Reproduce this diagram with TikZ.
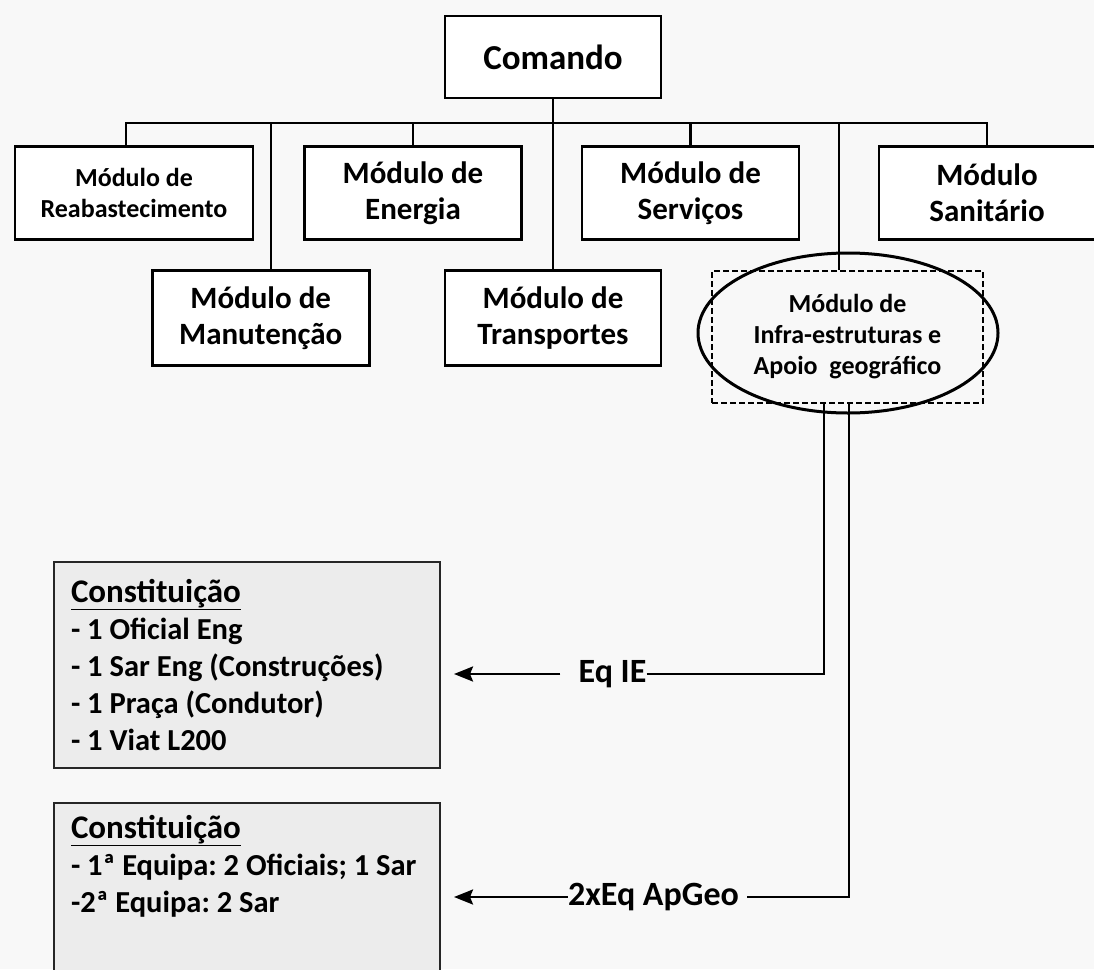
\documentclass[tikz,border=0pt]{standalone}
\usepackage{fontspec}
\setmainfont{Carlito}
\usetikzlibrary{positioning}
\usetikzlibrary{arrows.meta}

\definecolor{fundo}{HTML}{F8F8F8}
\definecolor{cinza}{HTML}{ECECEC}

\tikzset{
	modulo/.style={draw, line width=2.8pt, fill=white, inner sep=0pt, align=center,
		minimum width=217pt, minimum height=93pt, font=\bfseries\fontsize{31}{36}\selectfont},
	modpeq/.style={font=\bfseries\fontsize{26}{31}\selectfont},
	caixa/.style={draw=black!85, line width=2pt, fill=cinza, text width=352pt, inner xsep=17pt,
		inner ysep=0pt, align=flush left, font=\bfseries\frenchspacing\fontsize{30.5}{37}\selectfont},
	rotulo/.style={inner sep=0pt, font=\bfseries\fontsize{34}{40}\selectfont},
	linha/.style={line width=2.5pt}
}
\newcommand{\titcons}{{\fontsize{33}{40}\selectfont\underline{Constituição}}}

\begin{document}
\begin{tikzpicture}[x=1pt,y=-1pt,>={Stealth[length=19pt,width=15pt,inset=3pt]}]
	\useasboundingbox (0,0) rectangle (1094,969);
	\clip (0,0) rectangle (1094,969);
	\fill[fundo] (0,0) rectangle (1094,969);
	% comando e modulos
	\node[modulo, minimum width=216pt, minimum height=82pt, font=\bfseries\fontsize{35}{40}\selectfont] (Cmd) at (553,57) {Comando};
	\node[modulo, modpeq, minimum width=238pt] (Reab) at (134,193) {Módulo de\\Reabastecimento};
	\node[modulo] (Ener) at (413,193) {Módulo de\\Energia};
	\node[modulo] (Serv) at (690.5,193) {Módulo de\\Serviços};
	\node[modulo, minimum width=216pt] (Sani) at (987,193) {Módulo\\Sanitário};
	\node[modulo, minimum width=216pt, minimum height=95pt, below=170pt of Cmd] (Trans) {Módulo de\\Transportes};
	\node[modulo, minimum height=95pt, left=73pt of Trans] (Manu) {Módulo de\\Manutenção};
	\node[modulo, modpeq, fill=none, line width=1.6pt, dash pattern=on 6pt off 3pt, minimum width=271pt, minimum height=132pt] (Infra) at (847.5,337) {Módulo de\\Infra-estruturas e\\Apoio~ geográfico};
	\draw[line width=3pt] (848,333) ellipse [x radius=150pt, y radius=80pt];
	\coordinate (barra) at (553,123);
	\draw[linha] (Cmd) -- (Trans);
	\draw[linha] ([xshift=-8pt]Reab.north) |- (Sani.north |- barra) -- (Sani.north);
	\draw[linha] (Ener.north) -- (Ener.north |- barra);
	\draw[linha] (Serv.north) -- (Serv.north |- barra);
	\draw[linha] ([xshift=10.5pt]Manu.north) -- ([xshift=10.5pt]Manu.north |- barra);
	\draw[linha] ([xshift=-8.5pt]Infra.north) -- ([xshift=-8.5pt]Infra.north |- barra);
	% equipas
	\node[caixa, minimum height=206pt] (Cons1) at (247,665) {\titcons\\- 1 Oficial Eng\\- 1 Sar Eng (Construções)\\- 1 Praça (Condutor)\\- 1 Viat L200};
	\node[caixa, anchor=north, inner ysep=12pt] (Cons2) at (247,802) {\titcons\\\mbox{- 1ª Equipa: 2 Oficiais; 1 Sar}\\-2ª Equipa: 2 Sar\rule[-70pt]{0pt}{70pt}};
	\node[rotulo] (EqIE) at (612.5,674) {Eq IE};
	\node[rotulo] (ApGeo) at (653.5,897) {2xEq ApGeo};
	\draw[linha] (EqIE.east) -| ([xshift=-23.5pt]Infra.south);
	\draw[linha] ([xshift=8pt]ApGeo.east) -| ([xshift=1.5pt]Infra.south);
	\draw[linha, ->, shorten <=18pt, shorten >=13pt] (EqIE.west) -- (EqIE.west -| Cons1.east);
	\draw[linha, ->, shorten >=13pt] (ApGeo.west) -- (ApGeo.west -| Cons2.east);
\end{tikzpicture}
\end{document}
